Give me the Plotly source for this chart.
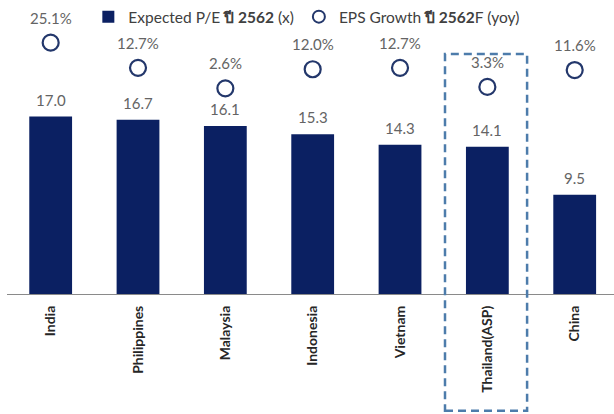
import plotly.graph_objects as go

categories = ["India", "Philippines", "Malaysia", "Indonesia", "Vietnam", "Thailand(ASP)", "China"]
pe_2562 = [17.0, 16.7, 16.1, 15.3, 14.3, 14.1, 9.5]
eps_growth_2562 = [25.1, 12.7, 2.6, 12.0, 12.7, 3.3, 11.6]
highlight = "Thailand(ASP)"

FONT = "Lato, 'Noto Sans', sans-serif"
BAR_COLOR = "#0b2062"
CIRCLE_COLOR = "#23376b"
LABEL_COLOR = "#646464"

fig = go.Figure()
fig.add_trace(go.Bar(
    x=categories, y=pe_2562,
    name="Expected P/E <b>ปี 2562</b> (x)",
    marker=dict(color=BAR_COLOR, line=dict(width=0)),
    width=0.49,
    yaxis="y",
))
fig.add_trace(go.Scatter(
    x=categories, y=eps_growth_2562,
    name="EPS Growth <b>ปี 2562</b>F (yoy)",
    mode="markers",
    marker=dict(symbol="circle-open", size=16, color=CIRCLE_COLOR,
                line=dict(width=2.2, color=CIRCLE_COLOR)),
    yaxis="y2",
))

annotations = []
for c, v in zip(categories, pe_2562):
    annotations.append(dict(x=c, y=v, xref="x", yref="y", text=f"{v:.1f}",
                            showarrow=False, yshift=17, yanchor="middle",
                            font=dict(family=FONT, size=15, color=LABEL_COLOR)))
for c, v in zip(categories, eps_growth_2562):
    annotations.append(dict(x=c, y=v, xref="x", yref="y2", text=f"{v:.1f}%",
                            showarrow=False, yshift=25, yanchor="middle",
                            font=dict(family=FONT, size=15, color=LABEL_COLOR)))

idx = categories.index(highlight)
shapes = [dict(type="rect", xref="x", yref="paper",
               x0=idx - 0.485, x1=idx + 0.455, y0=-0.397, y1=0.816,
               line=dict(color="#4d7cab", width=2.5, dash="8px,5px"),
               fillcolor="rgba(0,0,0,0)", layer="above")]

fig.update_layout(
    width=614, height=414,
    margin=dict(l=7, r=0, t=0, b=120),
    paper_bgcolor="white", plot_bgcolor="white",
    font=dict(family=FONT, size=14, color="#404040"),
    showlegend=True,
    legend=dict(orientation="h", x=0.134, y=0.942, xanchor="left", yanchor="middle",
                font=dict(family=FONT, size=15.5, color="#404040"),
                itemsizing="constant", bgcolor="rgba(0,0,0,0)", itemwidth=30,
                tracegroupgap=0),
    xaxis=dict(type="category", range=[-0.5, 6.45], showline=True,
               linecolor="#8a8a8a", linewidth=1.3, showgrid=False, zeroline=False,
               ticks="", tickangle=-90, ticklabelstandoff=5,
               tickfont=dict(family=FONT, size=14, color="#262626", weight="bold"),
               fixedrange=True),
    yaxis=dict(range=[0, 28.16], visible=False, showgrid=False, zeroline=False),
    yaxis2=dict(range=[-98.7, 46.1], overlaying="y", visible=False,
                showgrid=False, zeroline=False),
    annotations=annotations,
    shapes=shapes,
    bargap=0.5,
)

fig.write_html("out.html")
